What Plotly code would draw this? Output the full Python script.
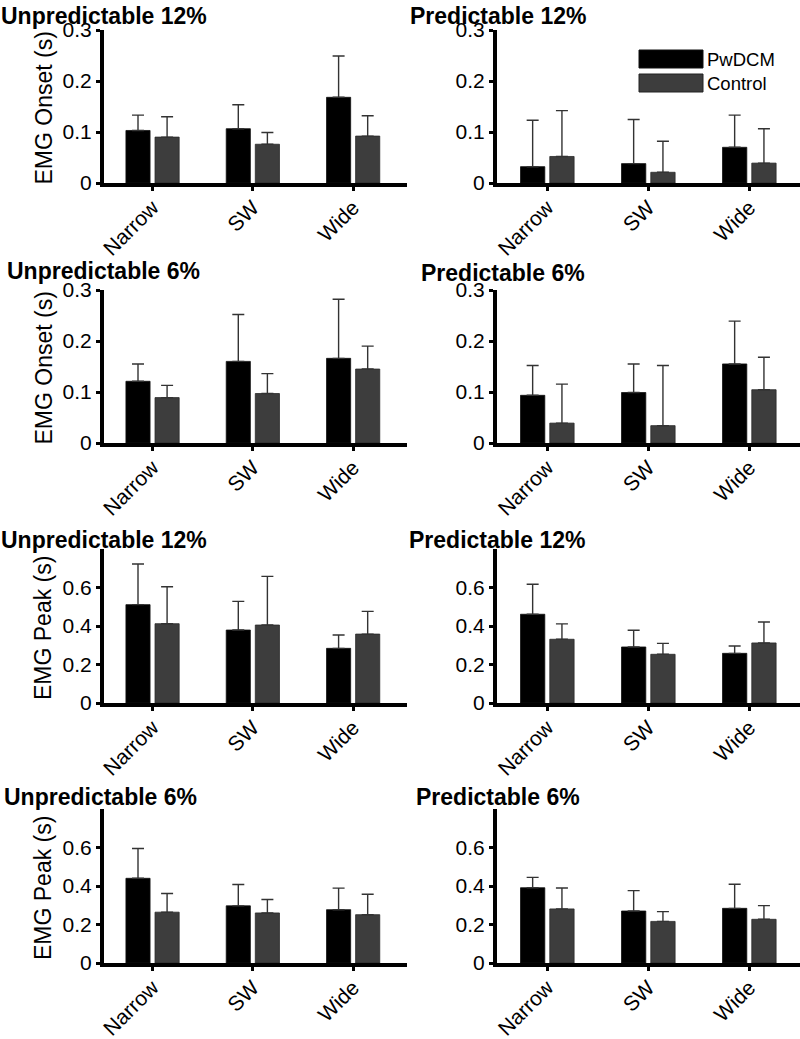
import plotly.graph_objects as go

W, H = 800, 1039

categories = ["Narrow", "SW", "Wide"]
groups = ["PwDCM", "Control"]

# Panel titles (row-major: left, right)
titles = ["Unpredictable 12%", "Predictable 12%",
          "Unpredictable 6%", "Predictable 6%",
          "Unpredictable 12%", "Predictable 12%",
          "Unpredictable 6%", "Predictable 6%"]

ylabel_onset = "EMG Onset (s)"
ylabel_peak = "EMG Peak (s)"

onset_ticks = [0, 0.1, 0.2, 0.3]
onset_ticktext = ["0", "0.1", "0.2", "0.3"]
peak_ticks = [0, 0.2, 0.4, 0.6]
peak_ticktext = ["0", "0.2", "0.4", "0.6"]

# Means and SD (upper error) per panel
onset_unpred12_pwdcm = [0.103, 0.1065, 0.168]
onset_unpred12_pwdcm_sd = [0.030, 0.047, 0.081]
onset_unpred12_control = [0.090, 0.076, 0.092]
onset_unpred12_control_sd = [0.040, 0.023, 0.040]

onset_pred12_pwdcm = [0.032, 0.038, 0.070]
onset_pred12_pwdcm_sd = [0.091, 0.0865, 0.063]
onset_pred12_control = [0.052, 0.021, 0.039]
onset_pred12_control_sd = [0.090, 0.061, 0.0675]

onset_unpred6_pwdcm = [0.121, 0.160, 0.166]
onset_unpred6_pwdcm_sd = [0.034, 0.092, 0.116]
onset_unpred6_control = [0.089, 0.097, 0.145]
onset_unpred6_control_sd = [0.024, 0.039, 0.045]

onset_pred6_pwdcm = [0.0935, 0.099, 0.155]
onset_pred6_pwdcm_sd = [0.0585, 0.056, 0.084]
onset_pred6_control = [0.039, 0.034, 0.1045]
onset_pred6_control_sd = [0.0765, 0.118, 0.0635]

peak_unpred12_pwdcm = [0.511, 0.379, 0.284]
peak_unpred12_pwdcm_sd = [0.211, 0.149, 0.069]
peak_unpred12_control = [0.412, 0.405, 0.358]
peak_unpred12_control_sd = [0.192, 0.253, 0.118]

peak_pred12_pwdcm = [0.461, 0.291, 0.258]
peak_pred12_pwdcm_sd = [0.156, 0.087, 0.038]
peak_pred12_control = [0.331, 0.253, 0.312]
peak_pred12_control_sd = [0.080, 0.057, 0.109]

peak_unpred6_pwdcm = [0.440, 0.297, 0.277]
peak_unpred6_pwdcm_sd = [0.155, 0.111, 0.112]
peak_unpred6_control = [0.264, 0.260, 0.251]
peak_unpred6_control_sd = [0.097, 0.070, 0.106]

peak_pred6_pwdcm = [0.391, 0.270, 0.284]
peak_pred6_pwdcm_sd = [0.054, 0.106, 0.125]
peak_pred6_control = [0.281, 0.216, 0.227]
peak_pred6_control_sd = [0.109, 0.051, 0.071]

panels = [
    (onset_unpred12_pwdcm, onset_unpred12_pwdcm_sd, onset_unpred12_control, onset_unpred12_control_sd),
    (onset_pred12_pwdcm, onset_pred12_pwdcm_sd, onset_pred12_control, onset_pred12_control_sd),
    (onset_unpred6_pwdcm, onset_unpred6_pwdcm_sd, onset_unpred6_control, onset_unpred6_control_sd),
    (onset_pred6_pwdcm, onset_pred6_pwdcm_sd, onset_pred6_control, onset_pred6_control_sd),
    (peak_unpred12_pwdcm, peak_unpred12_pwdcm_sd, peak_unpred12_control, peak_unpred12_control_sd),
    (peak_pred12_pwdcm, peak_pred12_pwdcm_sd, peak_pred12_control, peak_pred12_control_sd),
    (peak_unpred6_pwdcm, peak_unpred6_pwdcm_sd, peak_unpred6_control, peak_unpred6_control_sd),
    (peak_pred6_pwdcm, peak_pred6_pwdcm_sd, peak_pred6_control, peak_pred6_control_sd),
]

FONT = "Liberation Sans, Arial, Helvetica, sans-serif"
BLACK = "#000000"
GREY = "#3d3d3d"

# layout geometry in pixels
col_x = [(104, 407), (497, 800)]
col_xrange = [(0.516, 3.537), (0.502, 3.502)]
row_y = [(30, 183), (290, 443), (549, 703), (809, 963)]
row_yrange = [(0, 0.3), (0, 0.3), (0, 0.8), (0, 0.8)]

# title centres (px)
title_pos = [(104, 16), (498, 16), (103, 271), (503, 273), (104, 540), (497, 540), (100, 797), (498, 797)]

fig = go.Figure()
layout = {}
annotations = []

for i, (pm, psd, cm, csd) in enumerate(panels):
    r, c = divmod(i, 2)
    n = i + 1
    xa = "x" if n == 1 else f"x{n}"
    ya = "y" if n == 1 else f"y{n}"
    fig.add_trace(go.Bar(
        x=[1, 2, 3], y=pm, name=groups[0], xaxis=xa, yaxis=ya,
        marker=dict(color=BLACK, line=dict(color="#111111", width=0.8)),
        error_y=dict(type="data", symmetric=False, array=psd, arrayminus=[0, 0, 0],
                     color="#333333", thickness=1.4, width=6),
        showlegend=False, offsetgroup="a",
    ))
    fig.add_trace(go.Bar(
        x=[1, 2, 3], y=cm, name=groups[1], xaxis=xa, yaxis=ya,
        marker=dict(color=GREY, line=dict(color="#2a2a2a", width=0.8)),
        error_y=dict(type="data", symmetric=False, array=csd, arrayminus=[0, 0, 0],
                     color="#333333", thickness=1.4, width=6),
        showlegend=False, offsetgroup="b",
    ))
    x0, x1 = col_x[c]
    y0, y1 = row_y[r]
    is_onset = r < 2
    layout[f"xaxis{'' if n == 1 else n}"] = dict(
        domain=[x0 / W, x1 / W], anchor=ya, range=list(col_xrange[c]),
        tickmode="array", tickvals=[1, 2, 3], ticktext=categories, tickangle=-45,
        showline=True, linewidth=4, linecolor="black", ticks="outside", ticklen=4,
        tickwidth=3, tickcolor="black", showgrid=False, zeroline=False,
        ticklabelstandoff=-4, automargin=False,
        tickfont=dict(family=FONT, size=21, color="black"), fixedrange=True,
    )
    layout[f"yaxis{'' if n == 1 else n}"] = dict(
        domain=[1 - y1 / H, 1 - y0 / H], anchor=xa, range=list(row_yrange[r]),
        tickmode="array",
        tickvals=onset_ticks if is_onset else peak_ticks,
        ticktext=onset_ticktext if is_onset else peak_ticktext,
        showline=True, linewidth=4, linecolor="black", ticks="outside", ticklen=4,
        tickwidth=3, tickcolor="black", showgrid=False, zeroline=False, automargin=False,
        tickfont=dict(family=FONT, size=21, color="black"), fixedrange=True,
    )
    tx, ty = title_pos[i]
    annotations.append(dict(
        text=f"<b>{titles[i]}</b>", x=tx / W, y=1 - ty / H, xref="paper", yref="paper",
        xanchor="center", yanchor="middle", showarrow=False,
        font=dict(family=FONT, size=23, color="black"),
    ))
    if c == 0:
        annotations.append(dict(
            text=ylabel_onset if is_onset else ylabel_peak,
            x=43 / W, y=1 - ((y0 + y1) / 2 + 2) / H, xref="paper", yref="paper",
            xanchor="center", yanchor="middle", textangle=-90, showarrow=False,
            font=dict(family=FONT, size=23, color="black"),
        ))

# Legend (drawn manually inside the top-right panel)
shapes = []
legend_items = [(groups[0], BLACK, "#111111", 50, 68), (groups[1], GREY, "#222222", 74, 92)]
for name, fill, edge, ly0, ly1 in legend_items:
    shapes.append(dict(type="rect", xref="paper", yref="paper",
                       x0=639 / W, x1=703 / W, y0=1 - ly1 / H, y1=1 - ly0 / H,
                       fillcolor=fill, line=dict(color=edge, width=1)))
    annotations.append(dict(
        text=name, x=705 / W, y=1 - ((ly0 + ly1) / 2) / H, xref="paper", yref="paper",
        xanchor="left", yanchor="middle", showarrow=False,
        font=dict(family=FONT, size=18.5, color="black"),
    ))

fig.update_layout(
    width=W, height=H, margin=dict(l=0, r=0, t=0, b=0, autoexpand=False),
    paper_bgcolor="white", plot_bgcolor="white",
    barmode="group", bargap=0.42, bargroupgap=0.17,
    annotations=annotations, shapes=shapes,
    font=dict(family=FONT, color="black"),
    hovermode=False,
    **layout,
)

fig.write_html(
    "out.html",
    config={"displayModeBar": False, "staticPlot": True},
    post_script="document.body.style.margin='0px';document.body.style.padding='0px';"
                "document.documentElement.style.overflow='hidden';",
)
